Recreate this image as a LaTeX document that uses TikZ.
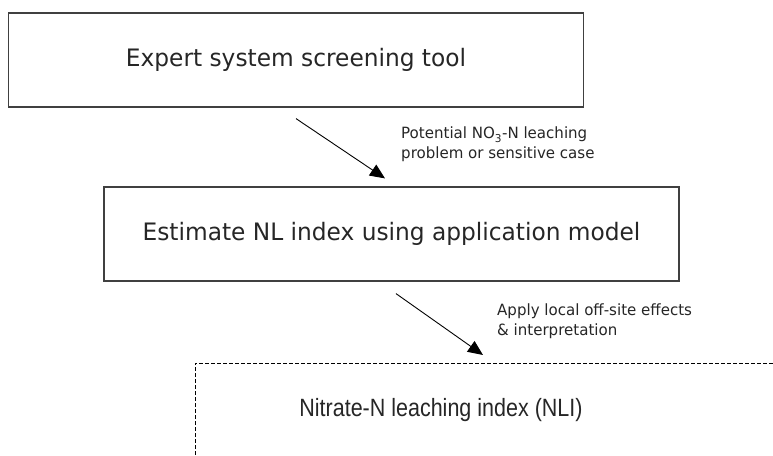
\documentclass[tikz,border=0pt]{standalone}
\usepackage{fontspec}
\setmainfont{DejaVu Sans}[FakeStretch=0.97]
\newfontfamily\narrowfont{Liberation Sans}[FakeStretch=0.86]
\usetikzlibrary{arrows.meta}
\tikzset{
  stage/.style={draw=black!75, line width=1.2pt, minimum width=575pt, minimum height=94pt, inner sep=0pt, font=\fontsize{24}{28}\selectfont, text=black!85},
  flow/.style={-{Triangle[length=15pt,width=13pt]}, line width=0.9pt},
  note/.style={align=left, inner sep=0pt, anchor=north west, font=\fontsize{15.5}{20}\selectfont, text=black!85},
}
\begin{document}
\begin{tikzpicture}[x=1pt,y=-1pt]
\useasboundingbox (0,0) rectangle (773,455);
\node[stage] (expert) at (296,60) {Expert system screening tool};
\node[stage] (estimate) at (391.5,234) {Estimate NL index using application model};
\coordinate (corner) at (195,363);
\draw[dash pattern=on 4pt off 2pt, line width=0.8pt] (195,455) -- (corner) -- (773,363);
\node[font=\narrowfont\fontsize{25}{30}\selectfont, text=black!85] (nli) at (441,410) {Nitrate-N leaching index (NLI)};
\draw[flow] ([yshift=-11pt]expert.south) -- ([xshift=-6.5pt,yshift=8pt]estimate.north);
\draw[flow] ([xshift=4.5pt,yshift=-12pt]estimate.south) -- ([xshift=288pt,yshift=8pt]corner);
\node[note] (leach) at (401,127) {Potential NO\textsubscript{3}-N leaching\\problem or sensitive case};
\node[note] (offsite) at (497,304) {Apply local off-site effects\\\& interpretation};
\end{tikzpicture}
\end{document}
